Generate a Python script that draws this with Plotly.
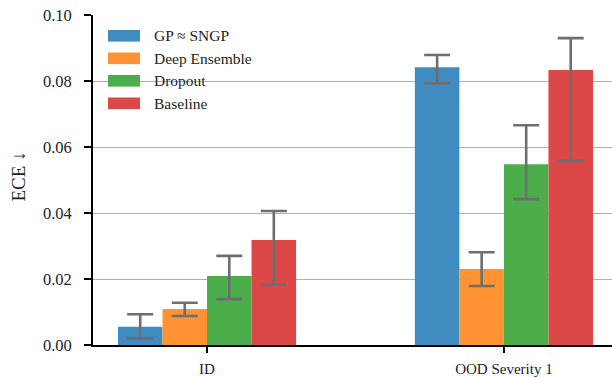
import plotly.graph_objects as go

# Data: expected calibration error per method, with error-bar bounds
categories = ["ID", "OOD Severity 1"]
methods = ["GP ≈ SNGP", "Deep Ensemble", "Dropout", "Baseline"]
ece_mean = {
    "GP ≈ SNGP":     [0.0055, 0.0842],
    "Deep Ensemble": [0.0109, 0.0230],
    "Dropout":       [0.0209, 0.0548],
    "Baseline":      [0.0318, 0.0833],
}
ece_low = {
    "GP ≈ SNGP":     [0.0020, 0.0793],
    "Deep Ensemble": [0.0088, 0.0179],
    "Dropout":       [0.0139, 0.0442],
    "Baseline":      [0.0183, 0.0558],
}
ece_high = {
    "GP ≈ SNGP":     [0.0093, 0.0879],
    "Deep Ensemble": [0.0128, 0.0281],
    "Dropout":       [0.0270, 0.0666],
    "Baseline":      [0.0406, 0.0930],
}
y_ticks = [0.00, 0.02, 0.04, 0.06, 0.08, 0.10]
colors = ["#408BBF", "#FF9232", "#4BAE4B", "#DC4748"]

W, H = 612, 377
M_L, M_R, M_T, M_B = 93, 0, 15, 32
FONT = "'Liberation Serif', 'Times New Roman', Times, serif"
TXT = "#222222"

fig = go.Figure()
for m, c in zip(methods, colors):
    mean = ece_mean[m]
    plus = [h - v for h, v in zip(ece_high[m], mean)]
    minus = [v - lo for lo, v in zip(ece_low[m], mean)]
    fig.add_trace(go.Bar(
        x=categories, y=mean, name=m,
        marker=dict(color=c, line=dict(width=0)),
        error_y=dict(type="data", symmetric=False, array=plus, arrayminus=minus,
                     visible=True, color="#6E6E6E", thickness=2.6, width=13),
        showlegend=False,
    ))

# Legend drawn as wide swatches with labels (top-left, inside the axes)
plot_w = W - M_L - M_R
plot_h = H - M_T - M_B
def px_x(p):
    return (p - M_L) / plot_w
def px_y(p):
    return (H - M_B - p) / plot_h

row0, row_step, sw_h = 35.8, 22.5, 11.6
for i, (m, c) in enumerate(zip(methods, colors)):
    yc = row0 + i * row_step
    fig.add_shape(type="rect", xref="paper", yref="paper",
                  x0=px_x(108), x1=px_x(140),
                  y0=px_y(yc + sw_h / 2), y1=px_y(yc - sw_h / 2),
                  fillcolor=c, line=dict(width=0), layer="above")
    fig.add_annotation(xref="paper", yref="paper", x=px_x(152), y=px_y(yc),
                       text=m, showarrow=False, xanchor="left", yanchor="middle",
                       font=dict(family=FONT, size=15.5, color=TXT))

# Y-axis title
fig.add_annotation(xref="paper", yref="paper", x=px_x(17.5), y=px_y(177),
                   text="ECE ↓", textangle=-90, showarrow=False,
                   xanchor="center", yanchor="middle",
                   font=dict(family=FONT, size=19, color=TXT))

fig.update_layout(
    width=W, height=H,
    margin=dict(l=M_L, r=M_R, t=M_T, b=M_B, pad=0),
    paper_bgcolor="white", plot_bgcolor="white",
    barmode="group", bargap=0.4, bargroupgap=0.0,
    font=dict(family=FONT, size=15, color=TXT),
)
fig.update_xaxes(
    type="category", range=[-0.384, 1.364],
    showline=True, linecolor="black", linewidth=1.8,
    ticks="outside", ticklen=6, tickwidth=1.6, tickcolor="black",
    showgrid=False, zeroline=False, ticklabelstandoff=3,
    tickfont=dict(family=FONT, size=15, color=TXT),
)
fig.update_yaxes(
    range=[0, 0.10], tickvals=y_ticks, ticktext=[f"{v:.2f}" for v in y_ticks],
    showline=True, linecolor="black", linewidth=1.8,
    ticks="outside", ticklen=7, tickwidth=1.6, tickcolor="black",
    showgrid=True, gridcolor="#B0B0B0", gridwidth=1, zeroline=False,
    ticklabelstandoff=9,
    tickfont=dict(family=FONT, size=16.5, color=TXT),
)

fig.write_html("out.html")
